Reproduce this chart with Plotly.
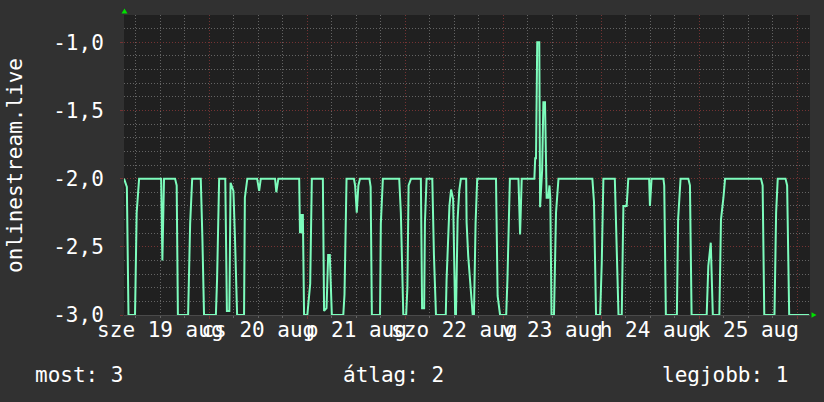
import pandas as pd
import plotly.graph_objects as go

# ---- data ----
start_time = "2020-08-19 03:06"
span_hours = 168
hours = [0.0, 0.7, 1.1, 2.7, 3.1, 3.7, 9.1, 9.4, 9.8, 12.5, 12.9, 13.2, 15.7, 16.2, 16.7,
         18.8, 19.2, 19.6, 22.5, 22.8, 23.3, 24.8, 25.2, 25.8, 26.1, 26.8, 27.2, 27.7,
         29.4, 29.6, 30.2, 32.6, 33.1, 33.5, 37.0, 37.3, 37.8, 42.9, 43.1, 43.3, 43.6,
         43.8, 44.1, 44.9, 45.6, 46.0, 48.7, 49.0, 49.6, 50.0, 50.4, 50.9, 53.7, 54.0,
         54.5, 56.3, 56.6, 57.0, 57.4, 57.8, 60.1, 60.4, 60.7, 62.7, 62.9, 63.4, 67.4,
         67.8, 68.4, 69.1, 69.4, 69.7, 70.3, 72.7, 73.0, 73.5, 73.7, 74.1, 75.5, 75.9,
         76.4, 78.8, 79.0, 79.7, 80.1, 80.6, 81.1, 81.3, 81.7, 82.1, 82.5, 83.8, 83.9,
         84.3, 85.4, 85.7, 86.1, 86.5, 91.1, 91.5, 92.1, 93.6, 93.9, 94.5, 96.6, 97.0,
         97.4, 100.5, 100.7, 100.9, 101.2, 101.7, 101.9, 102.4, 102.7, 103.1, 103.5,
         103.9, 104.2, 104.4, 104.7, 105.3, 105.8, 106.4, 114.7, 115.1, 115.6, 116.6,
         117.0, 117.4, 120.2, 120.7, 121.1, 121.9, 122.3, 123.1, 123.5, 128.6, 128.8,
         129.2, 132.1, 132.3, 132.7, 135.4, 135.7, 136.3, 138.2, 138.6, 139.0, 142.7,
         143.1, 143.7, 144.2, 145.8, 146.2, 146.8, 147.2, 156.0, 156.4, 156.8, 159.3,
         159.7, 160.1, 162.0, 162.4, 162.9, 167.8]
values = [-2.0, -2.06, -3.0, -3.0, -2.25, -2.0, -2.0, -2.6, -2.0, -2.0, -2.05, -3.0, -3.0, -2.33, -2.0,
          -2.0, -2.44, -3.0, -3.0, -2.73, -2.0, -2.0, -2.97, -2.97, -2.03, -2.09, -2.46, -3.0,
          -3.0, -2.14, -2.0, -2.0, -2.09, -2.0, -2.0, -2.1, -2.0, -2.0, -2.4, -2.26, -2.4,
          -2.26, -3.0, -3.0, -2.77, -2.0, -2.0, -2.97, -2.95, -2.56, -2.56, -3.0, -3.0, -2.85,
          -2.0, -2.0, -2.05, -2.25, -2.05, -2.0, -2.0, -2.06, -3.0, -3.0, -2.33, -2.0, -2.0,
          -2.25, -3.0, -3.0, -2.8, -2.05, -2.0, -2.0, -2.95, -2.95, -2.32, -2.0, -2.0, -2.56,
          -3.0, -3.0, -2.74, -2.2, -2.08, -2.15, -3.0, -3.0, -2.3, -2.09, -2.0, -2.0, -2.32,
          -2.57, -3.0, -3.0, -2.33, -2.0, -2.0, -2.86, -3.0, -3.0, -2.74, -2.0, -2.0, -2.41,
          -2.0, -2.0, -1.85, -1.85, -1.0, -1.0, -2.21, -1.94, -1.44, -1.44, -2.14,
          -2.14, -2.05, -2.14, -3.0, -3.0, -2.25, -2.0, -2.0, -2.17, -3.0, -3.0,
          -2.62, -2.0, -2.0, -2.67, -3.0, -3.0, -2.2, -2.2, -2.0, -2.0, -2.2,
          -2.0, -2.0, -2.05, -3.0, -3.0, -2.3, -2.0, -2.0, -2.05, -3.0, -3.0,
          -2.64, -2.47, -3.0, -3.0, -2.3, -2.14, -2.0, -2.0, -2.05, -3.0, -3.0,
          -2.25, -2.0, -2.0, -2.05, -3.0, -3.0]
day_labels = ["sze 19 aug", "cs 20 aug", "p 21 aug", "szo 22 aug", "v 23 aug", "h 24 aug", "k 25 aug"]
label_days = ["2020-08-19 12:00", "2020-08-20 12:00", "2020-08-21 12:00", "2020-08-22 12:00",
              "2020-08-23 12:00", "2020-08-24 12:00", "2020-08-25 12:00"]
y_ticks = [-3.0, -2.5, -2.0, -1.5, -1.0]
y_tick_labels = ["-3,0", "-2,5", "-2,0", "-1,5", "-1,0"]
y_range = [-3.0, -0.8]
series_name = "onlinestream.live"
legend_texts = ["most: 3", "átlag: 2", "legjobb: 1"]

# ---- build ----
t0 = pd.Timestamp(start_time)
times = [t0 + pd.Timedelta(hours=h) for h in hours]
x_range = [t0, t0 + pd.Timedelta(hours=span_hours)]

FONT = "DejaVu Sans Mono"
BG = "#313131"
PLOT_BG = "#202020"
MAJOR = "#743333"
MINOR = "#646464"
LINE = "#7dfcbc"

fig = go.Figure()
fig.add_trace(go.Scatter(x=times, y=values, mode="lines",
                         line=dict(color=LINE, width=2), showlegend=False,
                         hoverinfo="skip"))
fig.add_trace(go.Scatter(x=x_range, y=[None, None], xaxis="x2", mode="lines",
                         showlegend=False, hoverinfo="skip"))

fig.update_layout(
    width=824, height=402,
    margin=dict(l=124, r=14, t=15, b=87),
    paper_bgcolor=BG, plot_bgcolor=PLOT_BG,
    separators=", ",
    font=dict(family=FONT, size=21, color="white"),
    xaxis=dict(
        type="date", range=x_range, automargin=False,
        tick0="2020-08-20 00:00", dtick=86400000,
        showticklabels=False, ticks="outside", ticklen=3, tickcolor=MAJOR,
        showgrid=True, gridcolor=MAJOR, griddash="1px,2px", gridwidth=1,
        minor=dict(dtick=6 * 3600000, tick0="2020-08-20 00:00", showgrid=True,
                   gridcolor=MINOR, griddash="1px,2px", gridwidth=1,
                   ticks="outside", ticklen=2, tickcolor=MINOR),
        showline=True, linecolor="#4a4a4a", linewidth=1,
        zeroline=False, fixedrange=True,
    ),
    xaxis2=dict(
        type="date", range=x_range, overlaying="x", anchor="y", side="bottom",
        automargin=False,
        tickmode="array", tickvals=label_days, ticktext=day_labels,
        tickangle=0, ticks="", showgrid=False, showline=False, zeroline=False,
        tickfont=dict(family=FONT, size=21, color="white"),
        ticklabelstandoff=0, fixedrange=True,
    ),
    yaxis=dict(
        range=y_range, tickmode="array", tickvals=y_ticks, ticktext=y_tick_labels,
        automargin=False,
        showgrid=True, gridcolor=MAJOR, griddash="1px,2px", gridwidth=1,
        minor=dict(dtick=0.1, tick0=-3.0, showgrid=True, gridcolor=MINOR,
                   griddash="1px,2px", gridwidth=1),
        ticks="outside", ticklen=3, tickcolor=MAJOR,
        tickfont=dict(family=FONT, size=21, color="white"),
        ticklabelstandoff=12,
        zeroline=False, showline=False, fixedrange=True,
    ),
    shapes=[
        dict(type="path", xref="paper", yref="paper", xsizemode="pixel", ysizemode="pixel",
             xanchor=0, yanchor=1, path="M-2.5,1.5 L3.5,1.5 L0.5,6.5 Z",
             fillcolor="#00e000", line=dict(width=0)),
        dict(type="path", xref="paper", yref="paper", xsizemode="pixel", ysizemode="pixel",
             xanchor=1, yanchor=0, path="M1.5,-2.7 L1.5,2.7 L6.5,0 Z",
             fillcolor="#00e000", line=dict(width=0)),
    ],
    annotations=[
        dict(text=series_name, xref="paper", yref="paper", x=-0.159, y=0.5,
             textangle=-90, showarrow=False, xanchor="center", yanchor="middle",
             font=dict(family=FONT, size=21, color="white")),
        dict(text=legend_texts[0], xref="paper", yref="paper", x=(33 - 124) / 686, y=-0.2,
             showarrow=False, xanchor="left", yanchor="middle",
             font=dict(family=FONT, size=21, color="white")),
        dict(text=legend_texts[1], xref="paper", yref="paper", x=(393 - 124) / 686, y=-0.2,
             showarrow=False, xanchor="center", yanchor="middle",
             font=dict(family=FONT, size=21, color="white")),
        dict(text=legend_texts[2], xref="paper", yref="paper", x=(790 - 124) / 686, y=-0.2,
             showarrow=False, xanchor="right", yanchor="middle",
             font=dict(family=FONT, size=21, color="white")),
    ],
)

fig.write_html("out.html", config={"displayModeBar": False, "staticPlot": True},
               post_script="document.body.style.margin='0';")
